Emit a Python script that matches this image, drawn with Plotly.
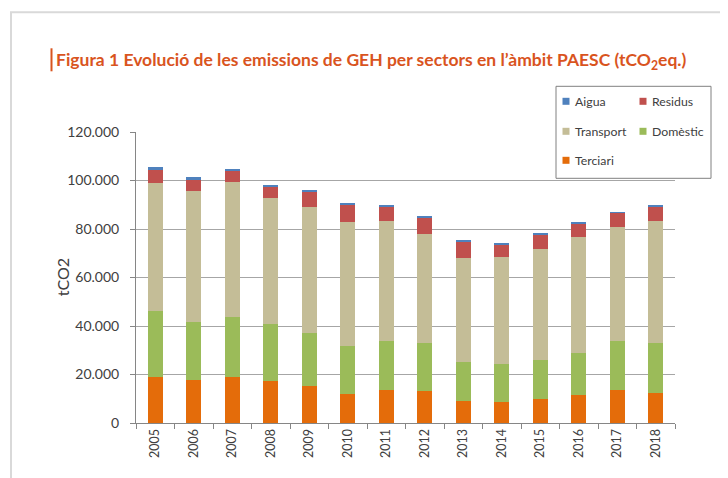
import plotly.graph_objects as go

years = ["2005", "2006", "2007", "2008", "2009", "2010", "2011", "2012",
         "2013", "2014", "2015", "2016", "2017", "2018"]
terciari = [19000, 17600, 19000, 17300, 15400, 12100, 13600, 13200, 8950, 8550, 9800, 11400, 13800, 12250]
domestic = [27100, 24200, 24600, 23500, 21700, 19600, 20200, 19700, 16200, 15700, 16100, 17450, 20050, 20900]
transport = [52900, 53900, 55800, 52000, 52100, 51300, 49650, 45200, 43050, 44000, 46050, 47700, 46800, 50000]
residus = [5500, 4700, 4550, 4850, 6300, 7250, 5800, 6700, 6700, 5500, 5800, 5900, 6000, 6200]
aigua = [900, 950, 600, 700, 550, 600, 550, 450, 550, 400, 400, 400, 300, 400]

series_names = ["Terciari", "Domèstic", "Transport", "Residus", "Aigua"]
series_values = [terciari, domestic, transport, residus, aigua]
series_colors = ["#E46C0A", "#9BBB59", "#C4BD97", "#C0504D", "#4F81BD"]

OFF = 8  # page body margin in the browser
W, H = 728 - OFF, 478 - OFF
PL, PR, PT, PB = 136, 675, 131.7, 422.7  # plot box in page pixels

def px(x):
    return (x - PL) / (PR - PL)

def py(y):
    return (PB - y) / (PB - PT)

fig = go.Figure()
for name, vals, col in zip(series_names, series_values, series_colors):
    fig.add_trace(go.Bar(x=years, y=vals, name=name, marker=dict(color=col, line=dict(width=0)),
                         showlegend=False))

shapes = []
annotations = []

# page border (document frame)
shapes.append(dict(type="path", xref="paper", yref="paper",
                   path=f"M {px(11)} {py(500)} L {px(11)} {py(12)} L {px(760)} {py(12)}",
                   line=dict(color="#D9D9D9", width=2), layer="below"))

# cursor mark before title
shapes.append(dict(type="line", xref="paper", yref="paper",
                   x0=px(51.5), x1=px(51.5), y0=py(48), y1=py(71),
                   line=dict(color="#D9541E", width=2)))

# legend box
shapes.append(dict(type="rect", xref="paper", yref="paper",
                   x0=px(556), x1=px(711), y0=py(178), y1=py(86),
                   fillcolor="white", line=dict(color="#808080", width=1), layer="above"))

legend_order = [("Aigua", 566, 101), ("Residus", 643, 101),
                ("Transport", 566, 131), ("Domèstic", 643, 131),
                ("Terciari", 566, 160)]
for name, cx, cy in legend_order:
    col = series_colors[series_names.index(name)]
    shapes.append(dict(type="rect", xref="paper", yref="paper",
                       x0=px(cx - 3.5), x1=px(cx + 3.5), y0=py(cy + 3.5), y1=py(cy - 3.5),
                       fillcolor=col, line=dict(width=0), layer="above"))
    annotations.append(dict(text=name, xref="paper", yref="paper",
                            x=px(cx + 7), y=py(cy), xanchor="left", yanchor="middle",
                            showarrow=False,
                            font=dict(family="Lato", size=12.3, color="#404040")))

# y axis title
annotations.append(dict(text="tCO2", xref="paper", yref="paper", x=px(62), y=py(277),
                        textangle=-90, showarrow=False, xanchor="center", yanchor="middle",
                        font=dict(family="Lato", size=16, color="#404040")))

# title
annotations.append(dict(text="Figura 1 Evolució de les emissions de GEH per sectors en l’àmbit PAESC (tCO<sub>2</sub>eq.)",
                        xref="paper", yref="paper", x=px(371), y=py(61),
                        xanchor="center", yanchor="middle", showarrow=False,
                        font=dict(family="Lato", size=17.5, color="#D9541E", weight="bold")))

fig.update_layout(
    width=W, height=H,
    margin=dict(l=PL - OFF, r=728 - PR, t=PT - OFF, b=478 - PB, pad=0),
    barmode="stack", bargap=0.6,
    separators=",.",
    paper_bgcolor="white", plot_bgcolor="white",
    shapes=shapes, annotations=annotations,
    xaxis=dict(type="category", showline=True, linecolor="#868686", linewidth=1,
               ticks="outside", ticklen=5, tickcolor="#868686", tickson="boundaries",
               tickangle=-90, tickfont=dict(family="Lato", size=12.5, color="#404040"),
               showgrid=False, fixedrange=True),
    yaxis=dict(range=[0, 120000], tickvals=[0, 20000, 40000, 60000, 80000, 100000, 120000],
               tickformat=",.0f", showline=True, linecolor="#868686", linewidth=1,
               ticks="outside", ticklen=5, tickcolor="#868686", ticklabelstandoff=8,
               showgrid=True, gridcolor="#A6A6A6", gridwidth=1, zeroline=False,
               tickfont=dict(family="Lato", size=14, color="#404040"), fixedrange=True),
    showlegend=False,
)

fig.write_html("out.html")
